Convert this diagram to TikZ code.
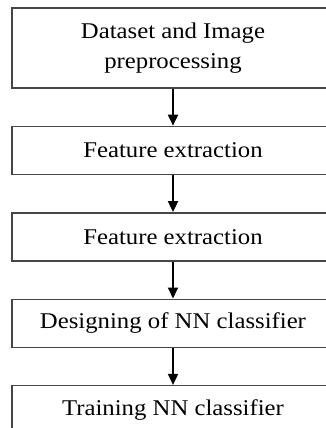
\documentclass[tikz,border=0pt]{standalone}
\usepackage{fontspec}
\setmainfont{Liberation Serif}[FakeStretch=1.1]
\usetikzlibrary{positioning,arrows.meta}
\definecolor{boxline}{RGB}{70,70,70}

\begin{document}
\begin{tikzpicture}[x=1pt, y=1pt, node distance=37pt,
        step box/.style = {draw=boxline, line width=1.4pt, text=black, rectangle, minimum width=322pt, minimum height=48pt, align=center, font=\fontsize{22.5}{30}\selectfont},
        flow/.style = {-{Triangle[length=11pt,width=10pt]}, draw=black, line width=1.8pt}]
    \path[use as bounding box] (0,0) rectangle (326,-428);
    \clip (0,0) rectangle (326,-428);
    \node[step box, minimum height=80pt] (1) at (173,-48) {Dataset and Image\\preprocessing};
    \node[step box, below=of 1] (2) {Feature extraction};
    \node[step box, below=of 2] (3) {Feature extraction};
    \node[step box, below=of 3] (4) {Designing of NN classifier};
    \node[step box, below=of 4] (5) {Training NN classifier};
    \draw[flow] (1) -- (2);
    \draw[flow] (2) -- (3);
    \draw[flow] (3) -- (4);
    \draw[flow] (4) -- (5);
\end{tikzpicture}
\end{document}
